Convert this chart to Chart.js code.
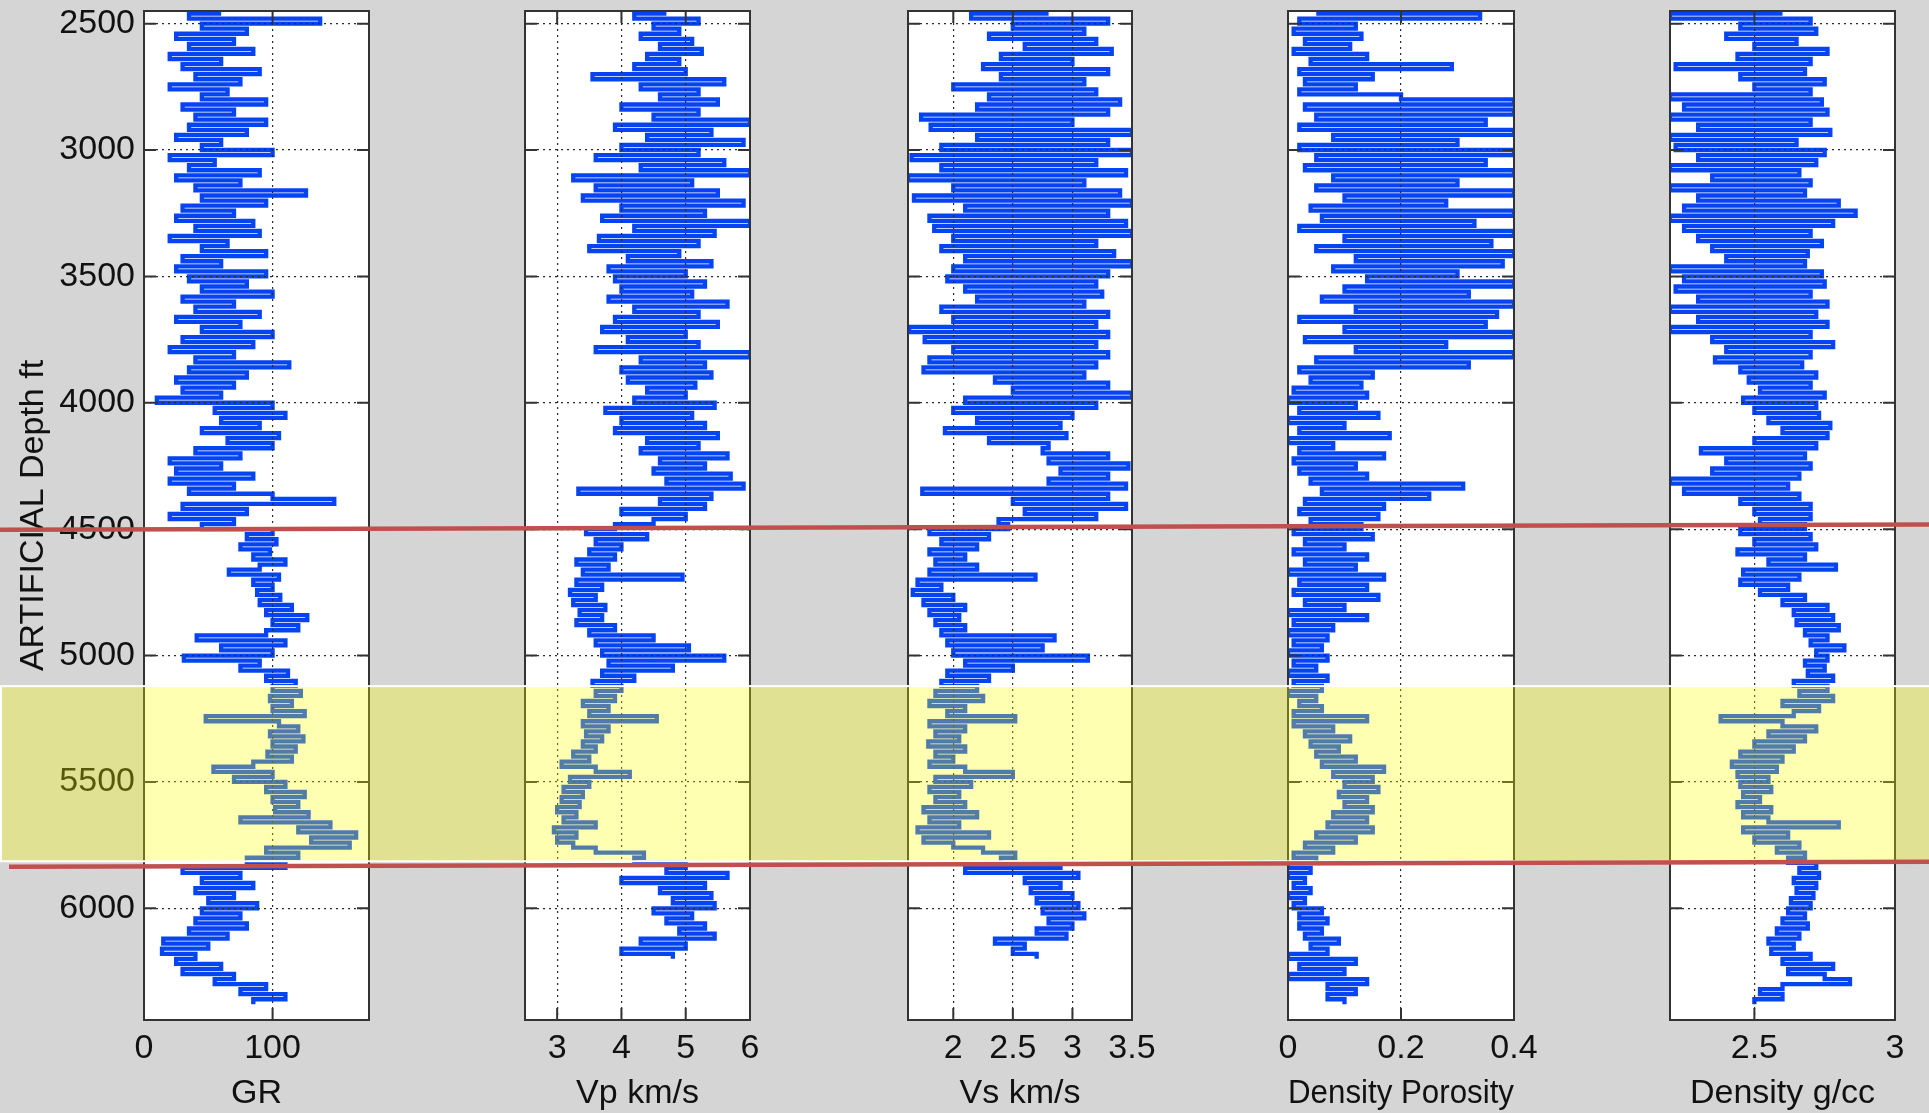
<!DOCTYPE html>
<html>
<head>
<meta charset="utf-8">
<title>Well logs</title>
<script src="https://cdn.jsdelivr.net/npm/chart.js@4.4.1/dist/chart.umd.min.js"></script>
<style>
  html, body { margin: 0; padding: 0; background: #d5d5d5; }
  #page { position: relative; width: 1929px; height: 1113px; overflow: hidden; background: #d5d5d5; }
  #overlay { position: absolute; left: 0; top: 0; pointer-events: none; }
</style>
</head>
<body>
<div id="page">
  <canvas id="overlay" width="1929" height="1113"></canvas>
</div>
<script>
// Profundidad (ft), una muestra cada 20 ft
const depths = [
  2460, 2480, 2500, 2520, 2540, 2560, 2580, 2600, 2620, 2640,
  2660, 2680, 2700, 2720, 2740, 2760, 2780, 2800, 2820, 2840,
  2860, 2880, 2900, 2920, 2940, 2960, 2980, 3000, 3020, 3040,
  3060, 3080, 3100, 3120, 3140, 3160, 3180, 3200, 3220, 3240,
  3260, 3280, 3300, 3320, 3340, 3360, 3380, 3400, 3420, 3440,
  3460, 3480, 3500, 3520, 3540, 3560, 3580, 3600, 3620, 3640,
  3660, 3680, 3700, 3720, 3740, 3760, 3780, 3800, 3820, 3840,
  3860, 3880, 3900, 3920, 3940, 3960, 3980, 4000, 4020, 4040,
  4060, 4080, 4100, 4120, 4140, 4160, 4180, 4200, 4220, 4240,
  4260, 4280, 4300, 4320, 4340, 4360, 4380, 4400, 4420, 4440,
  4460, 4480, 4500, 4520, 4540, 4560, 4580, 4600, 4620, 4640,
  4660, 4680, 4700, 4720, 4740, 4760, 4780, 4800, 4820, 4840,
  4860, 4880, 4900, 4920, 4940, 4960, 4980, 5000, 5020, 5040,
  5060, 5080, 5100, 5120, 5140, 5160, 5180, 5200, 5220, 5240,
  5260, 5280, 5300, 5320, 5340, 5360, 5380, 5400, 5420, 5440,
  5460, 5480, 5500, 5520, 5540, 5560, 5580, 5600, 5620, 5640,
  5660, 5680, 5700, 5720, 5740, 5760, 5780, 5800, 5820, 5840,
  5860, 5880, 5900, 5920, 5940, 5960, 5980, 6000, 6020, 6040,
  6060, 6080, 6100, 6120, 6140, 6160, 6180, 6200, 6220, 6240,
  6260, 6280, 6300, 6320, 6340, 6360, 6380, 6400, 6420
];

// GR
const grValues = [
  60, 35, 137, 45, 80, 25, 70, 35, 85, 20,
  60, 30, 90, 40, 75, 20, 65, 45, 95, 30,
  70, 40, 95, 35, 80, 25, 60, 45, 100, 20,
  55, 35, 90, 25, 75, 40, 126, 45, 95, 30,
  70, 25, 85, 40, 90, 20, 65, 45, 95, 30,
  60, 25, 95, 35, 80, 45, 100, 30, 70, 40,
  90, 25, 75, 45, 100, 30, 85, 20, 70, 40,
  113, 35, 80, 25, 70, 30, 60, 10, 100, 55,
  110, 60, 90, 45, 105, 65, 100, 40, 75, 20,
  60, 25, 85, 20, 70, 35, 100, 148, 30, 80,
  20, 70, 45, 100, 80, 103, 75, 98, 85, 110,
  90, 66, 105, 85, 100, 88, 106, 90, 115, 95,
  127, 100, 120, 95, 41, 110, 60, 100, 31, 90,
  75, 112, 95, 118, 100, 122, 98, 115, 100, 125,
  48, 105, 120, 98, 124, 100, 118, 96, 115, 85,
  54, 100, 70, 110, 95, 125, 100, 120, 102, 128,
  75, 145, 120, 165, 130, 160, 95, 120, 80, 110,
  30, 75, 45, 85, 40, 70, 50, 88, 45, 75,
  40, 80, 35, 65, 15, 50, 14, 40, 25, 60,
  30, 70, 55, 95, 75, 110, 85, null, null
];

// Vp km/s
const vpValues = [
  4.7, 4.2, 5.2, 4.5, 4.9, 4.3, 5.1, 4.6, 5.25, 4.4,
  4.9, 4.2, 5.0, 3.55, 5.6, 4.3, 5.2, 4.6, 5.5, 4.0,
  5.2, 4.5, 6.0, 3.9, 5.4, 4.4, 5.9, 4.0, 5.2, 3.6,
  5.6, 4.3, 6.0, 3.25, 5.1, 3.6, 5.5, 3.4, 5.9, 4.0,
  5.3, 3.7, 6.0, 4.2, 5.45, 3.65, 5.2, 3.5, 4.9, 4.1,
  5.4, 3.8, 5.0, 3.9, 5.3, 4.0, 5.1, 3.8, 5.65, 4.2,
  5.2, 3.9, 5.5, 3.7, 5.0, 4.1, 5.2, 3.6, 6.0, 4.3,
  5.3, 4.0, 5.4, 4.1, 5.15, 4.4, 5.0, 4.2, 5.45, 3.75,
  5.1, 4.0, 5.3, 3.9, 5.5, 4.4, 5.2, 4.3, 5.65, 4.6,
  5.3, 4.5, 5.7, 4.7, 5.9, 3.33, 5.4, 4.6, 5.3, 4.0,
  5.0, 4.5, 3.9, 3.45, 4.4, 3.6, 4.0, 3.5, 3.9, 3.3,
  3.8, 3.4, 4.95, 3.3, 3.7, 3.2, 3.6, 3.25, 3.75, 3.35,
  3.7, 3.3, 3.9, 3.5, 4.5, 3.6, 5.05, 3.7, 5.6, 3.8,
  4.8, 3.7, 4.2, 3.55, 4.0, 3.6, 3.9, 3.4, 3.8, 3.5,
  4.55, 3.4, 3.8, 3.45, 3.7, 3.4, 3.6, 3.25, 3.5, 3.07,
  3.6, 4.13, 3.2, 3.5, 3.1, 3.4, 3.07, 3.35, 3.0, 3.3,
  3.1, 3.6, 2.95, 3.3, 3.0, 3.25, 3.6, 4.35, 4.2, 5.0,
  4.7, 5.65, 4.0, 5.3, 4.6, 5.4, 4.8, 5.45, 4.5, 5.1,
  4.7, 5.3, 4.9, 5.45, 4.3, 5.0, 4.0, 4.8, null, null,
  null, null, null, null, null, null, null, null, null
];

// Vs km/s
const vsValues = [
  2.8, 2.15, 3.3, 2.5, 3.1, 2.3, 3.2, 2.6, 3.33, 2.4,
  3.0, 2.25, 3.3, 2.4, 3.1, 2.0, 3.2, 2.3, 3.4, 2.2,
  3.3, 1.73, 3.0, 1.81, 3.5, 2.2, 3.3, 1.9, 3.5, 1.65,
  3.2, 1.9, 3.45, 1.62, 3.1, 2.0, 3.4, 1.67, 3.5, 2.1,
  3.3, 1.8, 3.45, 1.84, 3.5, 2.0, 3.2, 1.9, 3.35, 2.1,
  3.5, 2.0, 3.3, 1.95, 3.2, 2.1, 3.25, 2.2, 3.1, 1.9,
  3.3, 2.0, 3.2, 1.63, 3.3, 1.76, 3.2, 2.0, 3.3, 1.8,
  3.2, 1.75, 3.1, 2.35, 3.3, 2.5, 3.5, 2.1, 3.2, 2.0,
  3.0, 2.2, 2.9, 1.93, 2.95, 2.3, 2.8, 2.75, 3.3, 2.8,
  3.47, 2.9, 3.3, 2.8, 3.45, 1.74, 3.3, 2.5, 3.45, 2.6,
  3.2, 2.38, 2.46, 1.8, 2.3, 1.9, 2.2, 1.8, 2.1, 1.85,
  2.2, 1.8, 2.69, 1.7, 1.9, 1.66, 2.0, 1.75, 2.1, 1.8,
  2.05, 1.85, 2.1, 1.9, 2.85, 1.95, 2.75, 2.0, 3.13, 2.1,
  2.5, 1.95, 2.3, 1.9, 2.2, 1.85, 2.25, 1.8, 2.1, 1.95,
  2.52, 1.8, 2.1, 1.85, 2.05, 1.79, 2.1, 1.85, 2.0, 1.8,
  2.1, 2.5, 1.85, 2.15, 1.8, 2.05, 1.85, 2.1, 1.75, 2.2,
  1.8, 2.05, 1.7, 2.3, 1.75, 2.0, 2.25, 2.52, 2.4, 2.9,
  2.1, 3.05, 2.6, 2.9, 2.65, 3.0, 2.7, 3.05, 2.75, 3.1,
  2.8, 3.0, 2.7, 2.95, 2.35, 2.6, 2.5, 2.7, null, null,
  null, null, null, null, null, null, null, null, null
];

// Density Porosity
const dpValues = [
  0.05, 0.34, 0.02, 0.12, 0.01, 0.13, 0.03, 0.11, 0.01, 0.14,
  0.04, 0.29, 0.02, 0.15, 0.03, 0.12, 0.02, 0.2, 0.4, 0.03,
  0.4, 0.05, 0.35, 0.02, 0.4, 0.08, 0.3, 0.02, 0.4, 0.05,
  0.35, 0.03, 0.4, 0.08, 0.3, 0.05, 0.4, 0.1, 0.28, 0.04,
  0.4, 0.06, 0.33, 0.02, 0.4, 0.1, 0.36, 0.05, 0.4, 0.12,
  0.38, 0.08, 0.3, 0.14, 0.4, 0.1, 0.32, 0.06, 0.4, 0.12,
  0.37, 0.02, 0.35, 0.1, 0.4, 0.03, 0.28, 0.12, 0.4, 0.05,
  0.32, 0.02, 0.15, 0.04, 0.13, 0.01, 0.14, 0.0, 0.12, 0.02,
  0.16, 0.0, 0.1, 0.02, 0.18, 0.0, 0.08, 0.02, 0.17, 0.01,
  0.12, 0.02, 0.14, 0.04, 0.31, 0.06, 0.25, 0.03, 0.17, 0.02,
  0.16, 0.04, 0.13, 0.01, 0.15, 0.03, 0.1, 0.01, 0.14, 0.03,
  0.12, 0.0, 0.17, 0.02, 0.14, 0.01, 0.16, 0.03, 0.1, 0.0,
  0.14, 0.01, 0.08, 0.0, 0.07, 0.01, 0.06, 0.0, 0.07, 0.01,
  0.05, 0.0, 0.07, 0.01, 0.06, 0.0, 0.05, 0.02, 0.06, 0.01,
  0.14, 0.01, 0.08, 0.03, 0.11, 0.04, 0.09, 0.05, 0.12, 0.06,
  0.17, 0.08, 0.15, 0.1, 0.16, 0.09, 0.14, 0.1, 0.15, 0.08,
  0.14, 0.07, 0.15, 0.05, 0.12, 0.03, 0.08, 0.01, 0.05, 0.0,
  0.04, 0.0, 0.03, 0.01, 0.04, 0.0, 0.03, 0.01, 0.06, 0.02,
  0.07, 0.02, 0.06, 0.03, 0.09, 0.04, 0.07, 0.0, 0.12, 0.02,
  0.1, 0.0, 0.14, 0.07, 0.12, 0.07, 0.1, null, null
];

// Density g/cc
const rhoValues = [
  2.6, 2.2, 2.7, 2.45, 2.72, 2.4, 2.65, 2.5, 2.76, 2.44,
  2.7, 2.22, 2.68, 2.45, 2.75, 2.5, 2.7, 2.2, 2.74, 2.25,
  2.76, 2.2, 2.7, 2.3, 2.77, 2.2, 2.65, 2.22, 2.75, 2.3,
  2.72, 2.2, 2.66, 2.35, 2.7, 2.2, 2.68, 2.3, 2.8, 2.25,
  2.86, 2.2, 2.78, 2.25, 2.7, 2.3, 2.74, 2.35, 2.69, 2.4,
  2.68, 2.2, 2.74, 2.25, 2.75, 2.22, 2.7, 2.3, 2.76, 2.2,
  2.72, 2.3, 2.76, 2.2, 2.7, 2.35, 2.78, 2.4, 2.7, 2.36,
  2.67, 2.45, 2.72, 2.48, 2.7, 2.52, 2.75, 2.46, 2.72, 2.5,
  2.73, 2.55, 2.77, 2.6, 2.76, 2.5, 2.72, 2.31, 2.68, 2.4,
  2.7, 2.35, 2.66, 2.2, 2.62, 2.25, 2.66, 2.45, 2.7, 2.5,
  2.7, 2.52, 2.68, 2.45, 2.7, 2.5, 2.72, 2.44, 2.68, 2.55,
  2.79, 2.46, 2.66, 2.45, 2.62, 2.52, 2.68, 2.6, 2.76, 2.64,
  2.78, 2.65, 2.8, 2.68, 2.76, 2.7, 2.82, 2.72, 2.76, 2.68,
  2.75, 2.69, 2.78, 2.64, 2.76, 2.66, 2.78, 2.6, 2.73, 2.64,
  2.38, 2.6, 2.72, 2.55, 2.68, 2.5, 2.64, 2.45, 2.6, 2.42,
  2.58, 2.44, 2.55, 2.45, 2.56, 2.46, 2.52, 2.44, 2.56, 2.46,
  2.55, 2.8, 2.46, 2.62, 2.5, 2.66, 2.58, 2.68, 2.62, 2.72,
  2.66, 2.73, 2.64, 2.72, 2.65, 2.71, 2.63, 2.7, 2.62, 2.68,
  2.6, 2.69, 2.58, 2.66, 2.55, 2.64, 2.56, 2.7, 2.6, 2.78,
  2.62, 2.75, 2.84, 2.6, 2.52, 2.6, 2.5, null, null
];

// Marcas de los ejes
const depthTicks = [2500, 3000, 3500, 4000, 4500, 5000, 5500, 6000];
const grTicks = [0, 100];
const vpTicks = [3, 4, 5, 6];
const vsTicks = [2, 2.5, 3, 3.5];
const dpTicks = [0, 0.2, 0.4];
const rhoTicks = [2.5, 3];

// Zona marcada (ft) y lineas rojas
const zoneTop = 5121, zoneBottom = 5814;
const markerLines = [
  { x0: 0, d0: 4502, x1: 1929, d1: 4482 },
  { x0: 9, d0: 5836, x1: 1929, d1: 5816 }
];

const W = 1929, H = 1113;
const BLUE = '#0644f2';
const TXT = '#111';
const GRID = '#2a2a2a';
const FONT = "'Liberation Sans', Arial, Helvetica, sans-serif";
Chart.defaults.font.family = FONT;

const panels = [
  { left: 144, right: 369, min: 0, max: 175, ticks: grTicks, title: 'GR', values: grValues },
  { left: 525, right: 750, min: 2.5, max: 6, ticks: vpTicks, title: 'Vp km/s', values: vpValues },
  { left: 908, right: 1132, min: 1.62, max: 3.5, ticks: vsTicks, title: 'Vs km/s', values: vsValues },
  { left: 1288, right: 1514, min: 0, max: 0.4, ticks: dpTicks, title: 'Density Porosity', values: dpValues },
  { left: 1670, right: 1895, min: 2.2, max: 3, ticks: rhoTicks, title: 'Density g/cc', values: rhoValues }
];

// Fondo blanco del area, marco y marcas hacia dentro
const frame = {
  id: 'frame',
  beforeDraw(chart) {
    const { ctx, chartArea: a } = chart;
    ctx.save();
    ctx.fillStyle = '#fff';
    ctx.fillRect(a.left, a.top, a.right - a.left, a.bottom - a.top);
    ctx.restore();
  },
  afterDraw(chart) {
    const { ctx, chartArea: a, scales } = chart;
    ctx.save();
    ctx.strokeStyle = '#333';
    ctx.lineWidth = 2;
    ctx.strokeRect(a.left, a.top, a.right - a.left, a.bottom - a.top);
    ctx.beginPath();
    scales.y.ticks.forEach(t => {
      const py = scales.y.getPixelForValue(t.value);
      ctx.moveTo(a.left, py); ctx.lineTo(a.left + 12, py);
      ctx.moveTo(a.right, py); ctx.lineTo(a.right - 12, py);
    });
    scales.x.ticks.forEach(t => {
      const px = scales.x.getPixelForValue(t.value);
      ctx.moveTo(px, a.bottom); ctx.lineTo(px, a.bottom - 12);
      ctx.moveTo(px, a.top); ctx.lineTo(px, a.top + 12);
    });
    ctx.stroke();
    ctx.restore();
  }
};

const page = document.getElementById('page');
const overlay = document.getElementById('overlay');

function makePanel(p, first) {
  const padL = first ? p.left : 40, padR = 40;
  const cv = document.createElement('canvas');
  cv.width = padL + (p.right - p.left) + padR;
  cv.height = H;
  cv.style.position = 'absolute';
  cv.style.left = (p.left - padL) + 'px';
  cv.style.top = '0px';
  page.insertBefore(cv, overlay);

  const points = [];
  depths.forEach((d, i) => {
    if (p.values[i] !== null) points.push({ x: p.values[i], y: d });
  });

  return new Chart(cv, {
    type: 'line',
    data: {
      datasets: [{
        data: points,
        borderColor: BLUE,
        borderWidth: 4.3,
        borderJoinStyle: 'miter',
        pointRadius: 0,
        stepped: true,
        fill: false,
        tension: 0
      }]
    },
    options: {
      indexAxis: 'y',
      responsive: false,
      animation: false,
      events: [],
      layout: { padding: { left: first ? 0 : padL, right: padR, top: 11, bottom: 0 } },
      plugins: { legend: { display: false }, tooltip: { enabled: false } },
      scales: {
        x: {
          type: 'linear',
          position: 'bottom',
          min: p.min,
          max: p.max,
          afterBuildTicks: s => { s.ticks = p.ticks.map(v => ({ value: v })); },
          afterFit: s => { s.height = 93; s.paddingLeft = 0; s.paddingRight = 0; },
          grid: { drawTicks: false, color: GRID, lineWidth: 1.2, z: 1 },
          border: { display: false, dash: [2, 4] },
          ticks: {
            autoSkip: false, maxRotation: 0, minRotation: 0, padding: 8,
            color: TXT, font: { size: 34 }, callback: v => String(v)
          },
          title: {
            display: true, text: p.title, color: TXT,
            font: { size: 34, lineHeight: 1 }, padding: { top: 0, bottom: 2 }
          }
        },
        y: {
          type: 'linear',
          position: 'left',
          reverse: true,
          min: 2450,
          max: 6442,
          afterBuildTicks: s => { s.ticks = depthTicks.map(v => ({ value: v })); },
          afterFit: s => { s.width = first ? p.left : 0; s.paddingTop = 0; s.paddingBottom = 0; },
          grid: { drawTicks: false, color: GRID, lineWidth: 1.2, z: 1 },
          border: { display: false, dash: [2, 4] },
          ticks: {
            display: first, padding: 9, color: TXT,
            font: { size: 34 }, callback: v => String(v)
          },
          title: {
            display: first, text: 'ARTIFICIAL Depth ft', color: TXT,
            font: { size: 34, lineHeight: 1 }, padding: { top: 17, bottom: 0 }
          }
        }
      }
    },
    plugins: [frame]
  });
}

const charts = panels.map((p, i) => makePanel(p, i === 0));

// Banda amarilla y lineas rojas por encima de todo
const ys = charts[0].scales.y;
const octx = overlay.getContext('2d');
const bt = ys.getPixelForValue(zoneTop);
const bb = ys.getPixelForValue(zoneBottom);
octx.fillStyle = 'rgba(255, 255, 0, 0.3)';
octx.fillRect(0, bt, W, bb - bt);
octx.strokeStyle = '#fff';
octx.lineWidth = 2;
octx.strokeRect(1, bt, W, bb - bt);
octx.strokeStyle = '#c0504d';
octx.lineWidth = 4.5;
markerLines.forEach(l => {
  octx.beginPath();
  octx.moveTo(l.x0, ys.getPixelForValue(l.d0));
  octx.lineTo(l.x1, ys.getPixelForValue(l.d1));
  octx.stroke();
});
</script>
</body>
</html>
